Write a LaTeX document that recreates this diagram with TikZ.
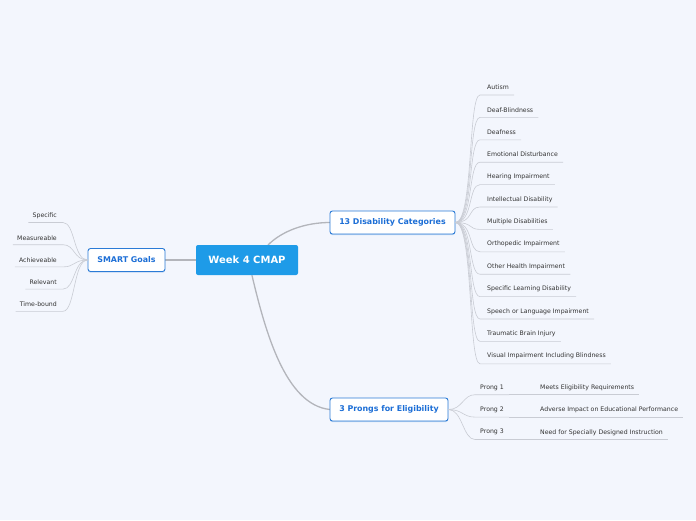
\documentclass[tikz,border=0pt]{standalone}
\usepackage{fontspec}
\setmainfont{DejaVu Sans}
\usetikzlibrary{calc,shadows}
\definecolor{bg}{HTML}{F3F6FD}
\definecolor{centerfill}{HTML}{1E9BE8}
\definecolor{subborder}{HTML}{2B7BD6}
\definecolor{subtext}{HTML}{1C6ED6}
\definecolor{leaftext}{HTML}{333333}
\definecolor{mainline}{HTML}{B3B5BB}
\definecolor{leafline}{HTML}{C9CCD4}
\tikzset{
  centerbox/.style={rectangle, rounded corners=2pt, fill=centerfill, text=white,
    font=\fontsize{10}{12}\selectfont\bfseries, minimum width=102pt, minimum height=30pt, inner sep=0pt},
  subbox/.style={rectangle, rounded corners=2.5pt, draw=subborder, line width=0.9pt, fill=white,
    text=subtext, font=\fontsize{7.9}{9}\selectfont\bfseries, minimum height=23pt, inner sep=0pt,
    drop shadow={shadow xshift=0pt, shadow yshift=-1.2pt, opacity=0.25, fill=subborder}},
  leafR/.style={anchor=west, inner sep=0pt, text=leaftext, font=\fontsize{6.2}{7}\selectfont},
  leafL/.style={anchor=east, inner sep=0pt, text=leaftext, font=\fontsize{6.2}{7}\selectfont},
  mainconn/.style={draw=mainline, line width=1.3pt, line cap=round},
  leafconn/.style={draw=leafline, line width=0.6pt},
}
\begin{document}
\begin{tikzpicture}[x=1pt,y=-1pt]
\fill[bg] (0,0) rectangle (696,520);
\useasboundingbox (0,0) rectangle (696,520);

% main connectors (drawn first)
\coordinate (ctop) at (268,245);
\coordinate (cbot) at (252,275.5);
\coordinate (disin) at (330,222.5);
\coordinate (prin) at (330,409.5);
\draw[mainconn] (196,260) -- (165,260);
\draw[mainconn] (ctop) .. controls (282,231) and (305,222.5) .. (disin);
\draw[mainconn] (cbot) .. controls (265,330) and (285,405) .. (prin);

% main nodes
\node[centerbox] (center) at (247,260) {Week 4 CMAP};
\node[subbox, minimum width=77pt] (smart) at (126.5,260) {SMART Goals};
\node[subbox, minimum width=125pt] (dis) at (392.5,222.5) {13 Disability Categories};
\node[subbox, minimum width=118pt] (prong) at (389,409.5) {3 Prongs for Eligibility};

% SMART leaves
\foreach \t [count=\i] in {Specific, Measureable, Achieveable, Relevant, Time-bound} {
  \pgfmathsetmacro\yy{215.5+(\i-1)*22.2}
  \node[leafL] (s\i) at (57,\yy) {\t};
  \draw[leafconn] (smart.west) .. controls +(-14,0) and +(12,0) .. ($(s\i.east)+(6,7)$) -- ($(s\i.west)+(-4,7)$);
}

% Disability leaves
\foreach \t [count=\i] in {Autism, Deaf-Blindness, Deafness, Emotional Disturbance, Hearing Impairment,
  Intellectual Disability, Multiple Disabilities, Orthopedic Impairment, Other Health Impairment,
  Specific Learning Disability, Speech or Language Impairment, Traumatic Brain Injury,
  Visual Impairment Including Blindness} {
  \pgfmathsetmacro\yy{87.3+(\i-1)*22.4}
  \node[leafR] (d\i) at (487,\yy) {\t};
  \draw[leafconn] (dis.east) .. controls +(18,0) and +(-12,0) .. ($(d\i.west)+(-7,7.7)$) -- ($(d\i.east)+(5,7.7)$);
}

% Prongs
\foreach \t/\c [count=\i] in {Prong 1/Meets Eligibility Requirements,
  Prong 2/Adverse Impact on Educational Performance,
  Prong 3/Need for Specially Designed Instruction} {
  \pgfmathsetmacro\yy{387.5+(\i-1)*22.4}
  \node[leafR] (p\i) at (480,\yy) {\t};
  \node[leafR] (q\i) at (540,\yy) {\c};
  \draw[leafconn] (prong.east) .. controls +(14,0) and +(-12,0) .. ($(p\i.west)+(-5,7.2)$) -- ($(p\i.east)+(5,7.2)$);
  \draw[leafconn] ($(p\i.east)+(5,7.2)$) -- ($(q\i.east)+(5,7.2)$);
}
\end{tikzpicture}
\end{document}
